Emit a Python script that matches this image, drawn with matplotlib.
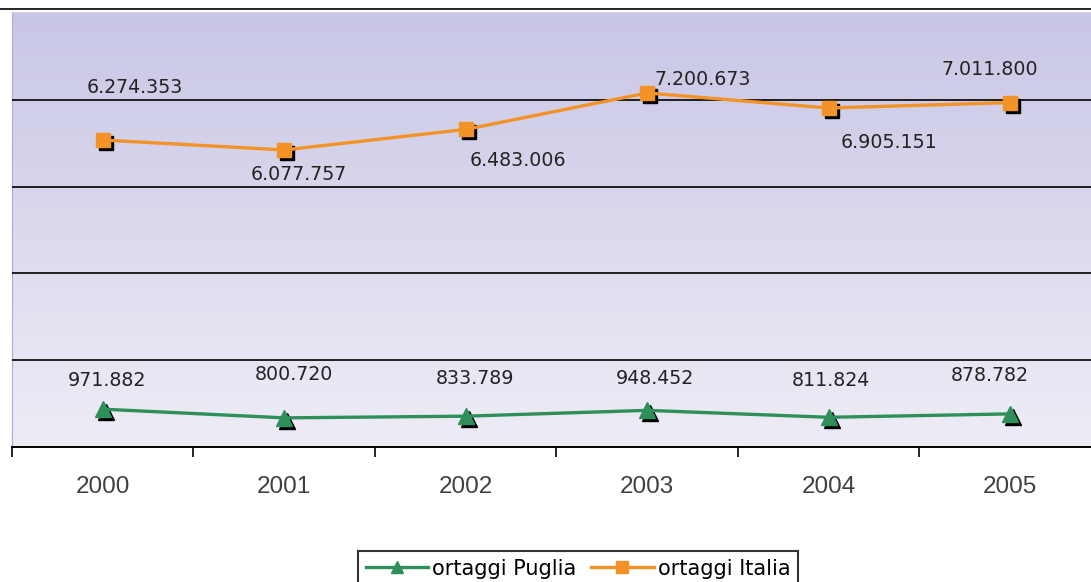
import matplotlib
matplotlib.use('Agg')
import matplotlib.pyplot as plt
import matplotlib.transforms as mtransforms
from matplotlib.lines import Line2D
import numpy as np

# --- dati ---
years = ['2000', '2001', '2002', '2003', '2004', '2005']
ortaggi_puglia = [971882, 800720, 833789, 948452, 811824, 878782]
ortaggi_italia = [6274353, 6077757, 6483006, 7200673, 6905151, 7011800]

# --- stile ---
color_puglia = '#2F8F5B'
color_italia = '#F39226'
plt.rcParams['font.family'] = 'DejaVu Sans'

fig = plt.figure(figsize=(10.91, 5.82), dpi=100)
ax = fig.add_axes([12 / 1091, 1 - 447 / 582, 1088.7 / 1091, 435 / 582])

x = np.arange(len(years))

# sfondo sfumato
top_c = np.array([200, 198, 229]) / 255
bot_c = np.array([238, 237, 246]) / 255
t = np.linspace(0, 1, 256)[:, None, None]
grad = top_c * (1 - t) + bot_c * t
ax.imshow(grad, extent=[0, 1, 0, 1], transform=ax.transAxes, aspect='auto', zorder=0)

# ombre dei marker
shadow = mtransforms.offset_copy(ax.transData, fig=fig, x=3, y=-3, units='dots')
ax.plot(x, ortaggi_italia, ls='none', marker='s', ms=10.5, color='black', transform=shadow, zorder=3)
ax.plot(x, ortaggi_puglia, ls='none', marker='^', ms=11, color='black', transform=shadow, zorder=3)

ax.plot(x, ortaggi_italia, color=color_italia, lw=2.4, marker='s', ms=10.5, zorder=4)
ax.plot(x, ortaggi_puglia, color=color_puglia, lw=2.4, marker='^', ms=11, zorder=4)

# etichette dei valori (spostamenti in pixel)
off_italia = [(32, 53), (15, -25), (52, -31), (56, 13), (60, -35), (-20, 33)]
off_puglia = [(4, 29), (10, 43), (9, 38), (8, 32), (2, 37), (-20, 38)]
for xi, v, (dx, dy) in zip(x, ortaggi_italia, off_italia):
    ax.annotate(f'{v:,}'.replace(',', '.'), (xi, v), xytext=(dx, dy), textcoords='offset pixels',
                ha='center', va='center', fontsize=13.7, color='#222222', zorder=5)
for xi, v, (dx, dy) in zip(x, ortaggi_puglia, off_puglia):
    ax.annotate(f'{v:,}'.replace(',', '.'), (xi, v), xytext=(dx, dy), textcoords='offset pixels',
                ha='center', va='center', fontsize=13.7, color='#222222', zorder=5)

# assi
ax.set_xlim(-0.5, 5.5)
ax.set_ylim(0.2266e6, 8.796e6)
ax.set_yticks([1.940e6, 3.654e6, 5.349e6, 7.063e6])
ax.yaxis.grid(True, color='black', lw=1.2)
ax.set_axisbelow(False)
ax.tick_params(axis='y', left=False, labelleft=False)

ax.set_xticks(np.arange(-0.5, 6.0, 1.0))
ax.set_xticks(x, minor=True)
ax.set_xticklabels([])
ax.set_xticklabels(years, minor=True, fontsize=17.5, color='#404040', family='Liberation Sans')
ax.tick_params(axis='x', which='major', length=7, width=1.2, direction='out', color='black')
ax.tick_params(axis='x', which='minor', length=0, pad=21)

ax.spines['right'].set_visible(False)
ax.spines['top'].set_color('#E3C8D8')
ax.spines['left'].set_color('#B3A6D8')
ax.spines['bottom'].set_color('black')
ax.spines['bottom'].set_linewidth(1.4)

# linea superiore della cornice
fig.add_artist(Line2D([0, 1], [1 - 9 / 582, 1 - 9 / 582], transform=fig.transFigure, color='black', lw=1.2))

# legenda
handles = [Line2D([], [], color=color_puglia, lw=2.4, marker='^', ms=9),
           Line2D([], [], color=color_italia, lw=2.4, marker='s', ms=9)]
leg = fig.legend(handles, ['ortaggi Puglia', 'ortaggi Italia'], loc='upper center',
                 bbox_to_anchor=(578 / 1091, 1 - 541 / 582), ncol=2, fontsize=15,
                 frameon=True, fancybox=False, edgecolor='black', handlelength=3,
                 columnspacing=0.7, handletextpad=0.2, borderpad=0.35)
leg.get_frame().set_linewidth(1.5)

fig.savefig('out.png', dpi=100)
